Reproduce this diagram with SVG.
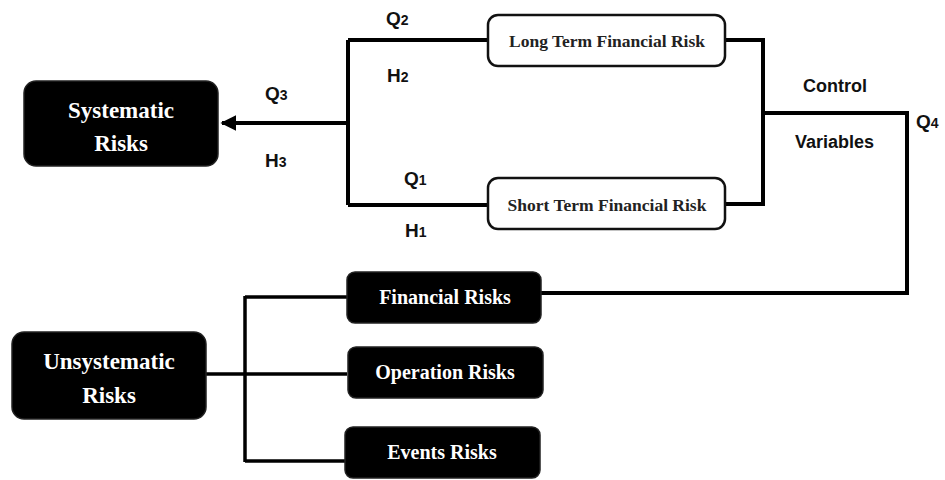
<svg xmlns="http://www.w3.org/2000/svg" width="945" height="480" viewBox="0 0 945 480">
<style>
.dark{fill:#000;stroke:#222;stroke-width:1.5}
.light{fill:#fff;stroke:#111;stroke-width:2.5}
.wt{fill:#fff;font-family:"Liberation Serif","Times New Roman",serif;font-weight:bold;text-anchor:middle}
.bt{fill:#222;font-family:"Liberation Serif","Times New Roman",serif;font-weight:bold;text-anchor:middle;font-size:17.5px}
.lbl{fill:#111;font-family:"Liberation Sans",Arial,sans-serif;font-weight:bold;font-size:18px}
.q{font-size:19px}
.sub{font-size:14px}
.ln{fill:none;stroke:#000;stroke-width:4;stroke-linejoin:miter}
.ln2{fill:none;stroke:#000;stroke-width:3.5}
</style>
<defs>
<marker id="arr" viewBox="0 0 10 10" refX="9" refY="5" markerWidth="4" markerHeight="4" orient="auto" markerUnits="strokeWidth">
<path d="M0,0 L10,5 L0,10 Z" fill="#000"/>
</marker>
</defs>
<rect width="945" height="480" fill="#fff"/>
<g id="connectors">
<path class="ln" d="M348,40 L348,205"/>
<path class="ln" d="M348,40 L488,40"/>
<path class="ln" d="M348,205 L488,205"/>
<path class="ln" d="M348,123 L222,123" marker-end="url(#arr)"/>
<path class="ln" d="M725,40 L763,40 L763,204 L725,204"/>
<path class="ln" d="M763,113 L907,113 L907,293 L541,293"/>
<path class="ln2" d="M206,374 L347,374"/>
<path class="ln2" d="M245,296 L245,462"/>
<path class="ln2" d="M245,297 L347,297"/>
<path class="ln2" d="M245,461 L345,461"/>
</g>
<g id="systematic">
<rect class="dark" x="24" y="81" width="194" height="85" rx="12"/>
<text class="wt" x="121" y="118" font-size="23">Systematic</text>
<text class="wt" x="121" y="151" font-size="23">Risks</text>
</g>
<g id="long-term">
<rect class="light" x="488" y="15" width="237" height="51" rx="10"/>
<text class="bt" x="607" y="47">Long Term Financial Risk</text>
</g>
<g id="short-term">
<rect class="light" x="488" y="178" width="237" height="51" rx="10"/>
<text class="bt" x="607" y="211">Short Term Financial Risk</text>
</g>
<g id="unsystematic">
<rect class="dark" x="12" y="332" width="194" height="87" rx="12"/>
<text class="wt" x="109" y="369" font-size="23">Unsystematic</text>
<text class="wt" x="109" y="403" font-size="23">Risks</text>
</g>
<g id="financial">
<rect class="dark" x="347" y="272" width="194" height="51" rx="8"/>
<text class="wt" x="445" y="304" font-size="20">Financial Risks</text>
</g>
<g id="operation">
<rect class="dark" x="348" y="347" width="195" height="51" rx="8"/>
<text class="wt" x="445" y="379" font-size="20">Operation Risks</text>
</g>
<g id="events">
<rect class="dark" x="345" y="427" width="195" height="51" rx="8"/>
<text class="wt" x="442" y="459" font-size="20">Events Risks</text>
</g>
<g id="labels">
<text class="lbl q" x="386" y="25">Q<tspan class="sub">2</tspan></text>
<text class="lbl q" x="387" y="82">H<tspan class="sub">2</tspan></text>
<text class="lbl q" x="265" y="100">Q<tspan class="sub">3</tspan></text>
<text class="lbl q" x="265" y="167">H<tspan class="sub">3</tspan></text>
<text class="lbl q" x="404" y="185">Q<tspan class="sub">1</tspan></text>
<text class="lbl q" x="405" y="237">H<tspan class="sub">1</tspan></text>
<text class="lbl" x="803" y="92">Control</text>
<text class="lbl" x="795" y="148">Variables</text>
<text class="lbl q" x="916" y="128">Q<tspan class="sub">4</tspan></text>
</g>
</svg>
